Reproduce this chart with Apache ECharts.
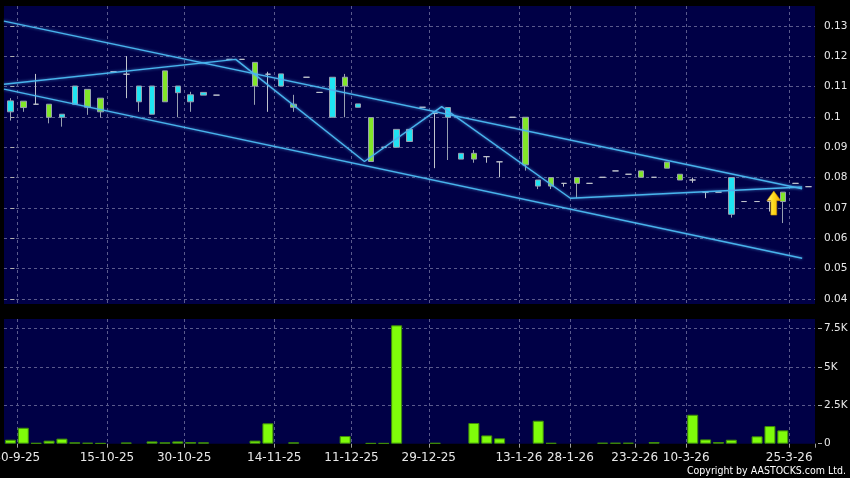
<!DOCTYPE html>
<html>
<head>
<meta charset="utf-8">
<script src="https://cdn.jsdelivr.net/npm/echarts@6/dist/echarts.min.js"></script>
<style>
html,body{margin:0;padding:0;background:#000;}
#chart{width:850px;height:478px;}
</style>
</head>
<body>
<div id="chart"></div>
<script>
// ---- data ----
const openP  = [0.1017,0.1052,0.1042,0.1042,0.0999,0.1042,0.1091,0.1062,0.1149,0.1141,0.1050,0.1009,0.1152,0.1080,0.1050,0.1072,0.1072,0.1190,0.1190,0.1180,0.1141,0.1102,0.1042,0.1131,0.1081,0.0999,0.1131,0.1032,0.0998,0.0900,0.0900,0.0919,0.1032,0.1012,0.0999,0.0861,0.0880,0.0869,0.0852,0.0999,0.0999,0.0772,0.0800,0.0781,0.0800,0.0781,0.0801,0.0822,0.0811,0.0822,0.0801,0.0851,0.0811,0.0792,0.0752,0.0752,0.0679,0.0721,0.0721,0.0721,0.0752,0.0781,0.0770];
const closeP = [0.1053,0.1031,0.1042,0.0999,0.1009,0.1102,0.1032,0.1017,0.1149,0.1141,0.1102,0.1102,0.1050,0.1102,0.1073,0.1081,0.1072,0.1190,0.1190,0.1102,0.1141,0.1142,0.1032,0.1131,0.1081,0.1131,0.1102,0.1043,0.0853,0.0900,0.0959,0.0959,0.1032,0.1012,0.1031,0.0880,0.0861,0.0869,0.0852,0.0999,0.0842,0.0792,0.0772,0.0781,0.0781,0.0781,0.0801,0.0822,0.0811,0.0801,0.0801,0.0831,0.0792,0.0792,0.0752,0.0752,0.0800,0.0721,0.0721,0.0721,0.0721,0.0781,0.0770];
const lowP   = [0.0988,0.1017,0.1042,0.0979,0.0968,0.1042,0.1007,0.0998,0.1149,0.1062,0.1017,0.1009,0.1050,0.0999,0.1017,0.1072,0.1072,0.1190,0.1190,0.1040,0.1017,0.1102,0.1017,0.1131,0.1081,0.0999,0.0999,0.1032,0.0853,0.0900,0.0900,0.0919,0.1032,0.0831,0.0858,0.0861,0.0849,0.0849,0.0801,0.0999,0.0823,0.0762,0.0762,0.0770,0.0732,0.0781,0.0801,0.0822,0.0811,0.0801,0.0801,0.0831,0.0792,0.0783,0.0732,0.0752,0.0668,0.0721,0.0721,0.0688,0.0650,0.0781,0.0770];
const highP  = [0.1062,0.1052,0.1142,0.1042,0.1009,0.1102,0.1091,0.1062,0.1149,0.1201,0.1102,0.1102,0.1152,0.1102,0.1083,0.1081,0.1072,0.1190,0.1190,0.1180,0.1149,0.1142,0.1073,0.1131,0.1081,0.1131,0.1142,0.1043,0.0998,0.0900,0.0959,0.0959,0.1032,0.1012,0.1031,0.0880,0.0891,0.0869,0.0852,0.0999,0.0999,0.0792,0.0800,0.0781,0.0800,0.0781,0.0801,0.0822,0.0811,0.0822,0.0801,0.0851,0.0811,0.0800,0.0752,0.0752,0.0800,0.0721,0.0721,0.0721,0.0752,0.0781,0.0770];
const volume = [260,1040,50,200,330,90,60,40,0,80,0,150,90,150,110,90,0,0,0,200,1330,0,90,0,0,0,500,0,40,40,7720,0,0,50,0,0,1350,540,350,0,0,1500,50,0,0,0,60,60,60,0,110,0,0,1890,280,110,260,0,480,1150,870,0,0];

const tickIndex  = [1, 8, 14, 21, 27, 33, 40, 44, 49, 53, 61];
const tickLabels = ['30-9-25','15-10-25','30-10-25','14-11-25','11-12-25','29-12-25','13-1-26','28-1-26','23-2-26','10-3-26','25-3-26'];

const upperChannel = [[-0.5, 0.1316], [61.5, 0.0763]];
const lowerChannel = [[-0.5, 0.1092], [61.5, 0.0534]];
const zigzag = [[-0.5, 0.1108], [17.5, 0.1190], [27.5, 0.0853], [33.5, 0.1034], [43.5, 0.0732], [61.5, 0.0769]];
const arrowPoint = [59.3, 0.0716];

// ---- build ----
const cats = openP.map((_, i) => {
  const k = tickIndex.indexOf(i);
  return k >= 0 ? tickLabels[k] : String(i);
});
const candles = openP.map((o, i) => [o, closeP[i], lowP[i], highP[i]]);
const vols = volume.map(v => v === 0 ? null : v);
const isTick = (idx) => tickIndex.indexOf(idx) >= 0;

const NAVY = '#000046';
const CYAN = '#1ee4f2';
const GREEN = '#82e628';
const WICK = '#98a0b0';
const FONT = 'DejaVu Sans';
const gridLine = { color: '#5a5a8c', width: 1, type: [3, 3] };
const lineStyle = { color: '#48b4ec', width: 1.4, shadowColor: 'rgba(90,180,255,0.7)', shadowBlur: 3 };

const chart = echarts.init(document.getElementById('chart'), null, { renderer: 'canvas' });
chart.setOption({
  backgroundColor: '#000000',
  animation: false,
  grid: [
    { left: 4, right: 35, top: 6, height: 298, show: true, backgroundColor: NAVY, borderWidth: 0, outerBoundsMode: 'none', containLabel: false },
    { left: 4, right: 35, top: 319, bottom: 34.3, show: true, backgroundColor: NAVY, borderWidth: 0, outerBoundsMode: 'none', containLabel: false }
  ],
  xAxis: [
    { type: 'category', gridIndex: 0, data: cats, boundaryGap: true,
      axisLine: { show: false }, axisTick: { show: false }, axisLabel: { show: false },
      splitLine: { show: true, interval: isTick, lineStyle: gridLine, showMaxLine: false } },
    { type: 'category', gridIndex: 1, data: cats, boundaryGap: true,
      axisLine: { show: false },
      axisTick: { show: true, interval: isTick, length: 4, lineStyle: { color: '#a0a0a0' } },
      axisLabel: { show: true, interval: isTick, color: '#e8e8e8', fontFamily: FONT, fontSize: 12,
        margin: 8, padding: [0, 13, 0, 0], hideOverlap: false },
      splitLine: { show: true, interval: isTick, lineStyle: gridLine, showMaxLine: false } },
    { type: 'value', gridIndex: 0, min: -0.5, max: 62.5, show: false }
  ],
  yAxis: [
    { type: 'value', gridIndex: 0, position: 'right', min: 0.0383, max: 0.1366, splitNumber: 10, offset: 3,
      axisLine: { show: false },
      axisTick: { show: true, length: 4, lineStyle: { color: '#b0b0b0' } },
      axisLabel: { color: '#e8e8e8', fontFamily: FONT, fontSize: 10.5, margin: 6, showMinLabel: false, showMaxLabel: false },
      splitLine: { show: true, lineStyle: gridLine, showMinLine: false, showMaxLine: false } },
    { type: 'value', gridIndex: 1, position: 'right', min: 0, max: 8133, interval: 2500, offset: 3,
      axisLine: { show: false },
      axisTick: { show: true, length: 4, lineStyle: { color: '#b0b0b0' } },
      axisLabel: { color: '#e8e8e8', fontFamily: FONT, fontSize: 10.5, margin: 6, showMaxLabel: false,
        formatter: v => v === 0 ? '0' : (v / 1000) + 'K' },
      splitLine: { show: true, lineStyle: gridLine, showMinLine: false, showMaxLine: false } }
  ],
  series: [
    { type: 'candlestick', xAxisIndex: 0, yAxisIndex: 0, data: candles, barWidth: 6,
      itemStyle: { color: CYAN, color0: GREEN, borderColor: WICK, borderColor0: WICK, borderColorDoji: '#c0c4cc', borderWidth: 1 } },
    { type: 'bar', xAxisIndex: 1, yAxisIndex: 1, data: vols, barWidth: 11,
      itemStyle: { color: '#7ffc0a', borderColor: '#3f8c08', borderWidth: 1 } },
    { type: 'line', xAxisIndex: 2, yAxisIndex: 0, data: upperChannel, symbol: 'none', lineStyle: lineStyle, z: 5 },
    { type: 'line', xAxisIndex: 2, yAxisIndex: 0, data: lowerChannel, symbol: 'none', lineStyle: lineStyle, z: 5 },
    { type: 'line', xAxisIndex: 2, yAxisIndex: 0, data: zigzag, symbol: 'none', lineStyle: lineStyle, z: 5 },
    { type: 'scatter', xAxisIndex: 2, yAxisIndex: 0, data: [arrowPoint], z: 6,
      symbol: 'path://M6,0 L12,8 L8.5,8 L8.5,20 L3.5,20 L3.5,8 L0,8 Z', symbolSize: [14, 24],
      itemStyle: { color: new echarts.graphic.LinearGradient(0, 0, 1, 0, [
        { offset: 0, color: '#fff6a0' }, { offset: 0.45, color: '#ffdc1e' }, { offset: 1, color: '#f2a800' }]),
        borderColor: '#c89000', borderWidth: 0.6, opacity: 1 } }
  ],
  graphic: [
    { type: 'text', right: 4, bottom: 1,
      style: { text: 'Copyright by AASTOCKS.com Ltd.', fill: '#ffffff', font: '10.5px "DejaVu Sans Condensed", "Liberation Sans"' } }
  ]
});
</script>
</body>
</html>
